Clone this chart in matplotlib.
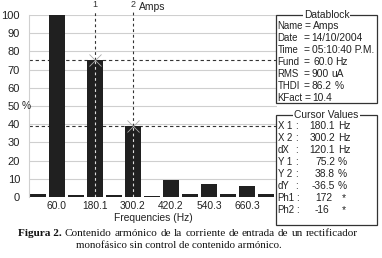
import matplotlib
matplotlib.use("Agg")
import matplotlib.pyplot as plt
from matplotlib.patches import Rectangle

# ---- data ----
harmonic_pos = list(range(13))           # 0, 60, 120, ... 720 Hz
values = [1.5, 100, 1.2, 75.2, 1.2, 38.8, 0.7, 9.3, 1.4, 7.0, 1.4, 6.2, 1.4]
tick_pos = [1, 3, 5, 7, 9, 11]
tick_labels = ["60.0", "180.1", "300.2", "420.2", "540.3", "660.3"]
y_ticks = [0, 10, 20, 30, 40, 50, 60, 70, 80, 90, 100]
cursor_x = [3, 5]
cursor_y = [75.2, 38.8]
cursor_names = ["1", "2"]

datablock_names = ["Name", "Date", "Time", "Fund", "RMS", "THDI", "KFact"]
datablock_vals = ["Amps", "14/10/2004", "05:10:40 P.M.", "60.0", "900", "86.2", "10.4"]
datablock_units = ["", "", "", "Hz", "uA", "%", ""]
cursor_names_list = ["X 1", "X 2", "dX", "Y 1", "Y 2", "dY", "Ph1", "Ph2"]
cursor_vals = ["180.1", "300.2", "120.1", "75.2", "38.8", "-36.5", "172", "-16"]
cursor_units = ["Hz", "Hz", "Hz", "%", "%", "%", "*", "*"]

W, H = 382, 258
fig = plt.figure(figsize=(W / 100, H / 100), dpi=100)
fig.patch.set_facecolor("white")

L, R, T, B = 29, 277, 15, 197
ax = fig.add_axes([L / W, 1 - B / H, (R - L) / W, (B - T) / H])
ax.set_xlim(-0.47, 12.58)
ax.set_ylim(0, 100)
for s in ax.spines.values():
    s.set_visible(False)
ax.spines["left"].set_visible(True)
ax.spines["left"].set_color("#d0d0d0")
ax.spines["left"].set_linewidth(0.8)

sans = "Liberation Sans"
serif = "Liberation Serif"
fs = 7.4
tc = "#222222"

for v in y_ticks[1:]:
    ax.axhline(v, color="#cfcfcf", lw=0.8, zorder=0)

ax.bar(harmonic_pos, values, width=0.82, color="#202020", zorder=2)

for cx, cy, nm in zip(cursor_x, cursor_y, cursor_names):
    ax.plot([cx, cx], [values[cx], 103], color="#333333", lw=0.8,
            ls=(0, (2.5, 2.5)), zorder=3, clip_on=False)
    ax.plot([cx, cx], [0, values[cx]], color="#dddddd", lw=0.8,
            ls=(0, (2.5, 2.5)), zorder=3)
    ax.axhline(cy, color="#333333", lw=0.8, ls=(0, (3, 2.5)), zorder=1.5)
    ax.plot([cx], [cy], marker="x", ms=8, mew=0.6, color="#aaaaaa", zorder=4)
    ax.text(cx, 105.5, nm, ha="center", va="center", fontsize=6.5,
            family=sans, color="#333333", clip_on=False)
ax.text(5.3, 104.5, "Amps", ha="left", va="center", fontsize=fs,
        family=sans, color=tc, clip_on=False)

ax.set_xticks(tick_pos)
ax.set_xticklabels(tick_labels, fontsize=fs, family=sans, color=tc)
ax.set_yticks(y_ticks)
ax.set_yticklabels([str(v) for v in y_ticks], fontsize=8.0, family=sans, color=tc)
ax.tick_params(axis="y", length=0, pad=6.5)
ax.tick_params(axis="x", length=0, pad=3)
ax.set_xlabel("Frequencies (Hz)", fontsize=fs, family=sans, color=tc, labelpad=1)


def px(x, y):
    return x / W, 1 - y / H


fig.text(*px(21.5, 106), "%", ha="left", va="center", fontsize=7.4, family=sans, color=tc)

fig.canvas.draw()
rend = fig.canvas.get_renderer()


def box(x0, y0, x1, y1, title):
    fig.add_artist(Rectangle(px(x0, y1), (x1 - x0) / W, (y1 - y0) / H,
                             transform=fig.transFigure, fill=False,
                             ec="#333333", lw=0.9))
    fig.text(*px((x0 + x1) / 2, y0), title, ha="center", va="center",
             fontsize=fs, family=sans, color=tc,
             bbox=dict(facecolor="white", edgecolor="none", pad=0.6))


def t(x, y, s, ha="left", size=fs):
    """place text; return its extent in pixels"""
    tx = fig.text(*px(x, y), s, ha=ha, va="center", fontsize=size, family=sans, color=tc)
    bb = tx.get_window_extent(rend)
    return bb.x0, bb.x1


box(276, 15, 377, 103, "Datablock")
eq_x = [295, 303, 303, 303, 303, 303, 299]
val_x = [300, 309, 309, 313, 309, 312, 310]
unit_x = [0, 0, 0, 331, 328, 328, 0]
y = 26
for i, name in enumerate(datablock_names):
    _, e = t(277.5, y, name, size=6.9)
    ex = max(eq_x[i], e + 1.5)
    _, e = t(ex, y, "=")
    vx = max(val_x[i], e + 2.5)
    _, e = t(vx, y, datablock_vals[i])
    if datablock_units[i]:
        t(max(unit_x[i], e + 2.5), y, datablock_units[i])
    y += 12

box(276, 115, 377, 225, "Cursor Values")
y = 126
for i, name in enumerate(cursor_names_list):
    _, e = t(277.5, y, name, size=6.9)
    t(max(297, e + 2.5), y, ":", ha="center")
    if cursor_units[i] == "*":
        t(315, y, cursor_vals[i])
        t(342, y, "*")
    else:
        t(335, y, cursor_vals[i], ha="right")
        t(338, y, cursor_units[i])
    y += 12

# ---- caption (first line justified between x=18 and x=358) ----
cfs = 8.1
bold_txt = fig.text(*px(18, 233), "Figura 2.", ha="left", va="center", fontsize=cfs,
                    family=serif, weight="bold", color="#111111")
words = "Contenido arm\u00f3nico de la corriente de entrada de un rectificador".split()
wtexts = [fig.text(0, 0, w, ha="left", va="center", fontsize=cfs, family=serif,
                   color="#111111") for w in words]
bw = bold_txt.get_window_extent(rend).width
widths = [wt.get_window_extent(rend).width for wt in wtexts]
start = 18 + bw
total = 358 - start
gap = (total - sum(widths)) / len(words)
x = start + gap
for wt, w in zip(wtexts, widths):
    wt.set_position(px(x, 233))
    x += w + gap
fig.text(*px(179, 246), "monof\u00e1sico sin control de contenido arm\u00f3nico.",
         ha="center", va="center", fontsize=7.8, family=serif, color="#111111")

fig.savefig("out.png", dpi=100, facecolor="white")
